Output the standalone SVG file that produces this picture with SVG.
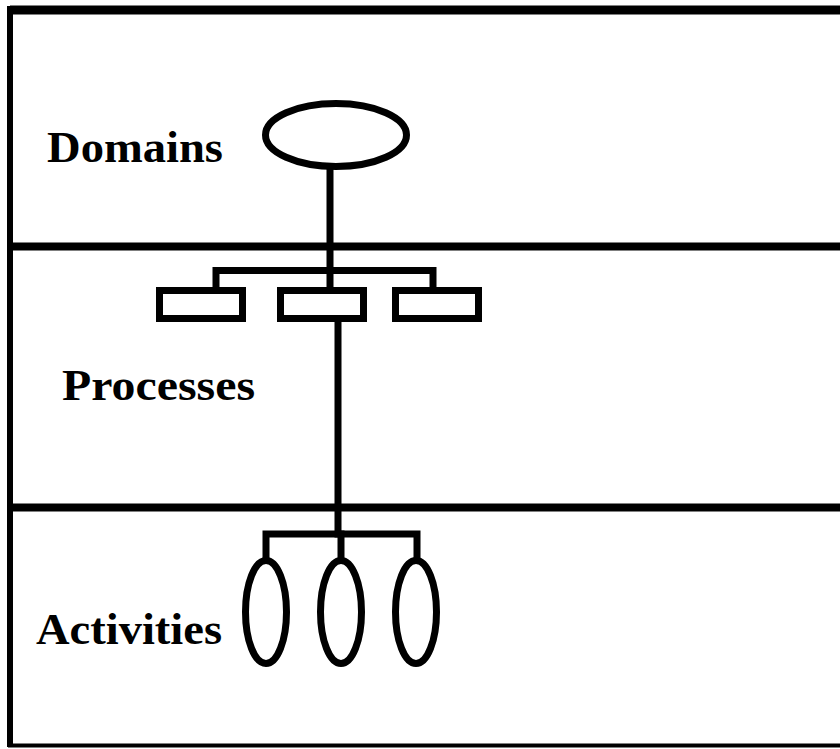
<svg xmlns="http://www.w3.org/2000/svg" width="840" height="749" viewBox="0 0 840 749">
  <style>
    .band { stroke: #000; fill: none; }
    .shape { stroke: #000; stroke-width: 7; fill: #fff; }
    .wire { stroke: #000; stroke-width: 7; fill: none; stroke-linecap: square; stroke-linejoin: miter; }
    .label { font-family: "Liberation Serif", "Times New Roman", serif; font-weight: bold; font-size: 44px; fill: #000; }
  </style>
  <rect width="840" height="749" fill="#fff"/>

  <!-- frame and band separators -->
  <g id="frame">
    <line class="band" x1="10" y1="10" x2="840" y2="10" stroke-width="9"/>
    <line class="band" x1="10" y1="6" x2="10" y2="747" stroke-width="6"/>
    <line class="band" x1="8" y1="745.5" x2="840" y2="745.5" stroke-width="4"/>
    <line class="band" x1="10" y1="246.5" x2="840" y2="246.5" stroke-width="8"/>
    <line class="band" x1="10" y1="507.5" x2="840" y2="507.5" stroke-width="8"/>
  </g>

  <!-- connectors -->
  <g id="connectors">
    <path class="wire" d="M330,166 V290"/>
    <path class="wire" d="M216,290 V270.5 H433 V290"/>
    <path class="wire" d="M338,318 V534"/>
    <path class="wire" d="M266,558 V534 H417 V558"/>
    <path class="wire" d="M341,534 V558"/>
  </g>

  <!-- Domains band -->
  <g id="domains">
    <text class="label" x="47" y="162" textLength="176" lengthAdjust="spacingAndGlyphs">Domains</text>
    <ellipse class="shape" cx="336" cy="135" rx="70.5" ry="31.5" stroke-width="7.5"/>
  </g>

  <!-- Processes band -->
  <g id="processes">
    <text class="label" x="62" y="400" textLength="193" lengthAdjust="spacingAndGlyphs">Processes</text>
    <rect id="process-1" class="shape" x="159.5" y="290.5" width="83" height="28"/>
    <rect id="process-2" class="shape" x="280.5" y="290.5" width="83" height="28"/>
    <rect id="process-3" class="shape" x="395.5" y="290.5" width="83" height="28"/>
  </g>

  <!-- Activities band -->
  <g id="activities">
    <text class="label" x="36" y="644" textLength="186" lengthAdjust="spacingAndGlyphs">Activities</text>
    <ellipse id="activity-1" class="shape" cx="266" cy="612" rx="20.5" ry="51.5"/>
    <ellipse id="activity-2" class="shape" cx="341" cy="612" rx="20.5" ry="51.5"/>
    <ellipse id="activity-3" class="shape" cx="416" cy="612" rx="20.5" ry="51.5"/>
  </g>
</svg>
